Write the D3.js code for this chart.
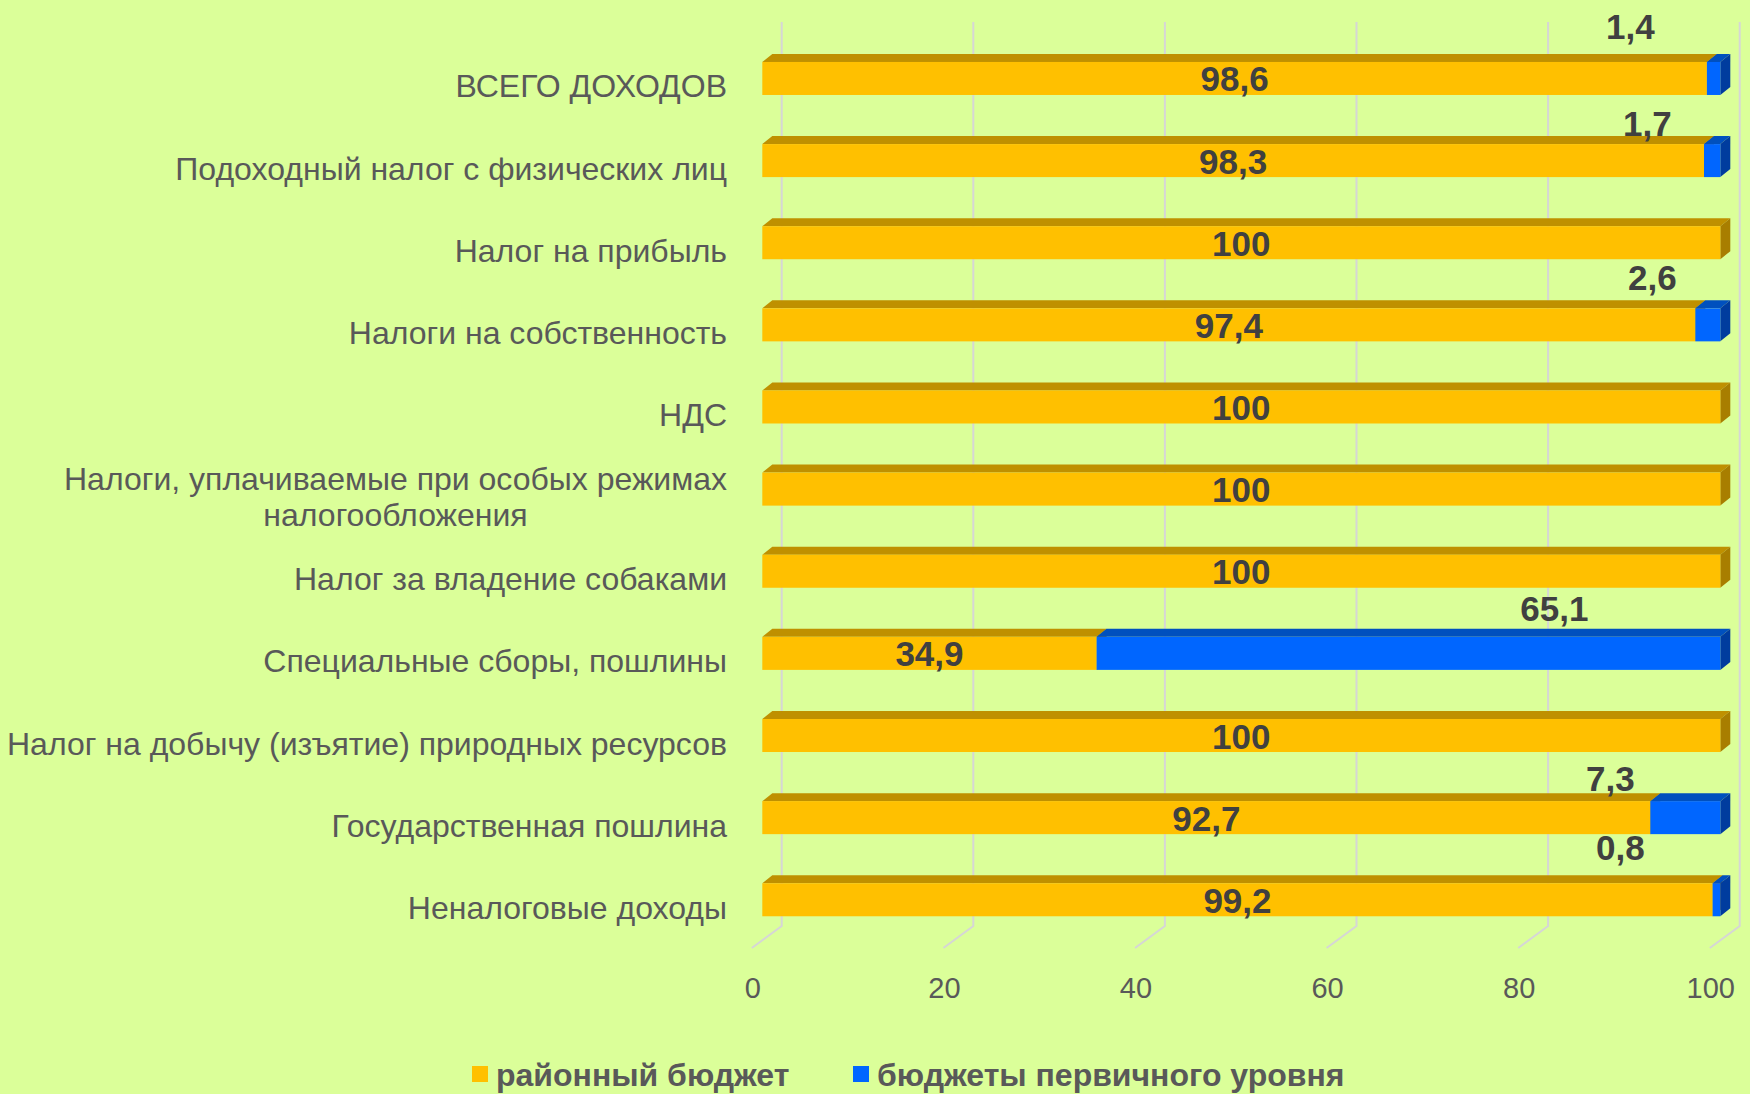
<!DOCTYPE html>
<html>
<head>
<meta charset="utf-8">
<script src="https://cdn.jsdelivr.net/npm/d3@7"></script>
<style>
  body { margin: 0; background: #dbff99; }
  svg { display: block; font-family: "Liberation Sans", Arial, sans-serif; }
</style>
</head>
<body>
<div id="chart"></div>
<script>
var categories = [
    "ВСЕГО ДОХОДОВ",
    "Подоходный налог с физических лиц",
    "Налог на прибыль",
    "Налоги на собственность",
    "НДС",
    "Налоги, уплачиваемые при особых режимах\nналогообложения",
    "Налог за владение собаками",
    "Специальные сборы, пошлины",
    "Налог на добычу (изъятие) природных ресурсов",
    "Государственная пошлина",
    "Неналоговые доходы"
];
var districtBudget = [98.6, 98.3, 100, 97.4, 100, 100, 100, 34.9, 100, 92.7, 99.2];
var primaryBudgets = [1.4, 1.7, 0, 2.6, 0, 0, 0, 65.1, 0, 7.3, 0.8];
var xTicks = [0, 20, 40, 60, 80, 100];
var seriesNames = ["районный бюджет", "бюджеты первичного уровня"];

// label nudges for the blue values (Excel put them above the bars, not centred)
var blueLabelNudge = [[-90, -23], [-73, -8], [0, 0], [-68, -18], [0, 0], [0, 0], [0, 0],
                      [-166, -16], [0, 0], [-110, -10], [-100, -23]];

var width = 1750, height = 1094;
var depthX = 10, depthY = 8;          // bar depth
var wallX = 19.4, floorX = -9.5;      // back wall / floor front offsets
var wallTop = 22, wallBottom = 926, floorY = 948;

var colors = {
    yellow: { front: "#ffc000", top: "#bf9000", side: "#a87e00" },
    blue:   { front: "#0066ff", top: "#0050be", side: "#003c9e" }
};

var svg = d3.select('#chart').append('svg')
    .attr('width', width)
    .attr('height', height);

var x = d3.scaleLinear().domain([0, 100]).range([762.3, 1720.3]);
var y = d3.scaleBand()
    .domain(d3.range(categories.length))
    .range([37.4, 37.4 + 82.13 * categories.length])
    .paddingInner(0.598)
    .paddingOuter(0.299);
var barH = y.bandwidth();

function fmt(v) {
    return String(v).replace(".", ",");
}

// gridlines: back wall + floor
var grid = svg.append("g").attr("class", "grid");
grid.selectAll("path")
    .data(xTicks)
    .enter().append("path")
    .attr("d", function (d) {
        var gx = x(d) + wallX;
        return "M" + gx + "," + wallTop + "L" + gx + "," + wallBottom +
            "L" + (x(d) + floorX - 1) + "," + floorY;
    })
    .attr("fill", "none")
    .attr("stroke", "#d6d6d6")
    .attr("stroke-width", 2);

// tick labels
svg.append("g").selectAll("text")
    .data(xTicks)
    .enter().append("text")
    .attr("x", function (d) { return x(d) + floorX; })
    .attr("y", 998)
    .attr("text-anchor", "middle")
    .style("font-family", '"Liberation Sans Narrow", "Liberation Sans", Arial, sans-serif')
    .style("font-size", "29px")
    .attr("fill", "#595959")
    .text(function (d) { return d; });

// segments
var segments = [];
categories.forEach(function (c, i) {
    var a = districtBudget[i], b = primaryBudgets[i];
    if (a > 0) segments.push({ i: i, x0: 0, x1: a, c: colors.yellow });
    if (b > 0) segments.push({ i: i, x0: a, x1: a + b, c: colors.blue });
});

var bars = svg.append("g").selectAll("g")
    .data(segments)
    .enter().append("g");

bars.append("path")
    .attr("d", function (d) {
        var x0 = x(d.x0), x1 = x(d.x1), t = y(d.i);
        return "M" + x0 + "," + t + "L" + (x0 + depthX) + "," + (t - depthY) +
            "L" + (x1 + depthX) + "," + (t - depthY) + "L" + x1 + "," + t + "Z";
    })
    .attr("fill", function (d) { return d.c.top; });

bars.append("path")
    .attr("d", function (d) {
        var x1 = x(d.x1), t = y(d.i);
        return "M" + x1 + "," + t + "L" + (x1 + depthX) + "," + (t - depthY) +
            "L" + (x1 + depthX) + "," + (t + barH - depthY) + "L" + x1 + "," + (t + barH) + "Z";
    })
    .attr("fill", function (d) { return d.c.side; });

bars.append("rect")
    .attr("x", function (d) { return x(d.x0); })
    .attr("y", function (d) { return y(d.i); })
    .attr("width", function (d) { return x(d.x1) - x(d.x0); })
    .attr("height", barH)
    .attr("fill", function (d) { return d.c.front; });

// yellow value labels, centred on the segment
svg.append("g").selectAll("text")
    .data(districtBudget)
    .enter().append("text")
    .attr("x", function (d) { return x(d / 2); })
    .attr("y", function (d, i) { return y(i) + barH / 2 + 13; })
    .attr("text-anchor", "middle")
    .style("font-size", "35px")
    .style("font-weight", "bold")
    .attr("fill", "#404040")
    .text(fmt);

// blue value labels above the bars
var blueIdx = d3.range(primaryBudgets.length).filter(function (i) { return primaryBudgets[i] > 0; });
svg.append("g").selectAll("text")
    .data(blueIdx)
    .enter().append("text")
    .attr("x", function (i) { return x(100) + blueLabelNudge[i][0]; })
    .attr("y", function (i) { return y(i) + blueLabelNudge[i][1]; })
    .attr("text-anchor", "middle")
    .style("font-size", "35px")
    .style("font-weight", "bold")
    .attr("fill", "#404040")
    .text(function (i) { return fmt(primaryBudgets[i]); });

// category labels
var labelRight = 727, lineH = 36.7;
var cat = svg.append("g").selectAll("g")
    .data(categories)
    .enter().append("g");

cat.each(function (d, i) {
    var g = d3.select(this);
    var lines = d.split("\n");
    var base = y(i) + barH / 2 + 19 - (lines.length - 1) * lineH / 2;
    var texts = lines.map(function (l, k) {
        return g.append("text")
            .attr("y", base + k * lineH)
            .attr("text-anchor", "middle")
            .style("font-size", "32px")
            .attr("fill", "#595959")
            .text(l);
    });
    var w = d3.max(texts, function (t) { return t.node().getComputedTextLength(); });
    texts.forEach(function (t) { t.attr("x", labelRight - w / 2); });
});

// legend
var legendX = [472, 853];
var legend = svg.append("g").selectAll("g")
    .data(seriesNames)
    .enter().append("g")
    .attr("transform", function (d, i) { return "translate(" + legendX[i] + ",1066)"; });

legend.append("rect")
    .attr("width", 16)
    .attr("height", 16)
    .attr("fill", function (d, i) { return i === 0 ? colors.yellow.front : colors.blue.front; });

legend.append("text")
    .attr("x", 24)
    .attr("y", 20)
    .style("font-size", "32px")
    .style("font-weight", "bold")
    .attr("fill", "#595959")
    .text(function (d) { return d; });
</script>
</body>
</html>
